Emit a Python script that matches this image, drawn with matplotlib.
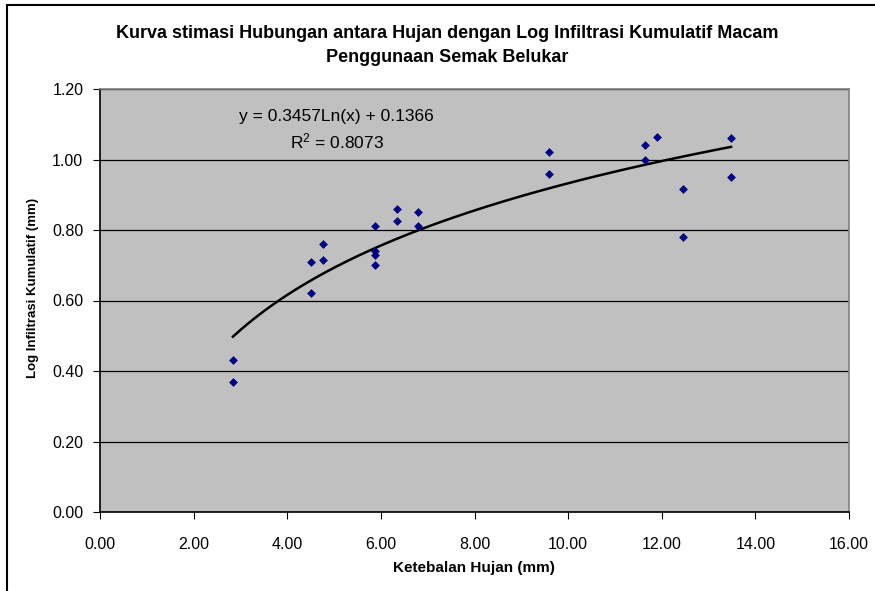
import matplotlib.pyplot as plt
import matplotlib.patches as mpatches
import numpy as np

plt.rcParams['font.family'] = ['Liberation Sans', 'DejaVu Sans']

# data
hujan = [2.84, 2.84, 4.5, 4.5, 4.76, 4.76, 5.88, 5.88, 5.88, 5.88, 6.35, 6.35,
         6.8, 6.8, 9.6, 9.6, 11.65, 11.65, 11.9, 12.46, 12.46, 13.48, 13.48]
log_inf = [0.43, 0.37, 0.71, 0.62, 0.76, 0.715, 0.81, 0.74, 0.73, 0.70, 0.86, 0.825,
           0.85, 0.81, 1.02, 0.96, 1.04, 1.00, 1.065, 0.915, 0.78, 1.06, 0.95]

# trendline coefficients from the label
a_coef = 0.3457
b_coef = 0.1366
r2 = 0.8073

W, H = 875, 591
fig = plt.figure(figsize=(8.75, 5.91), dpi=100)
ax = fig.add_axes([100 / W, 1 - 512 / H, 749 / W, 423 / H])
ax.set_facecolor('#C0C0C0')

xs = np.linspace(min(hujan), max(hujan), 200)
ax.plot(xs, a_coef * np.log(xs) + b_coef, color='black', lw=1.8, zorder=3)
ax.scatter(hujan, log_inf, marker='D', s=20, color='#000080', zorder=4, linewidths=0)

ax.set_xlim(0, 16)
ax.set_ylim(0, 1.2)
xt = np.arange(0, 16.1, 2)
yt = np.arange(0, 1.21, 0.2)
ax.set_xticks(xt)
ax.set_yticks(yt)
ax.set_xticklabels(['%.2f' % v for v in xt])
ax.set_yticklabels(['%.2f' % v for v in yt])
ax.tick_params(labelsize=11.5, direction='out', length=5, color='black')
ax.tick_params(axis='x', pad=13)
ax.tick_params(axis='y', pad=7)
ax.yaxis.grid(True, color='black', lw=0.9)
ax.set_axisbelow(True)
for s in ax.spines.values():
    s.set_color('#808080')
    s.set_linewidth(1.2)
ax.spines['left'].set_color('black')
ax.spines['bottom'].set_color('black')

fig.text(474 / W, 1 - 568 / H, 'Ketebalan Hujan (mm)', ha='center', va='center',
         fontsize=11, fontweight='bold')
fig.text(33 / W, 1 - 288 / H, 'Log Infiltrasi Kumulatif (mm)', ha='center', va='center',
         fontsize=9.5, fontweight='bold', rotation=90)
fig.text(447 / W, 1 - 33 / H, 'Kurva stimasi Hubungan antara Hujan dengan Log Infiltrasi Kumulatif Macam',
         ha='center', va='center', fontsize=13, fontweight='bold')
fig.text(447 / W, 1 - 57 / H, 'Penggunaan Semak Belukar',
         ha='center', va='center', fontsize=13, fontweight='bold')

ax.text(5.06, 1.121, 'y = %.4fLn(x) + %.4f' % (a_coef, b_coef), ha='center', va='center', fontsize=12.5)
ax.text(5.06, 1.050, '$\\mathregular{R^2}$ = %.4f' % r2, ha='center', va='center', fontsize=12.5)

fig.patches.append(mpatches.Rectangle((7 / W, -0.01), 1.0, 1.01 - 5 / H, transform=fig.transFigure,
                                      fill=False, edgecolor='black', lw=1.5))

fig.savefig('out.png', dpi=100)
